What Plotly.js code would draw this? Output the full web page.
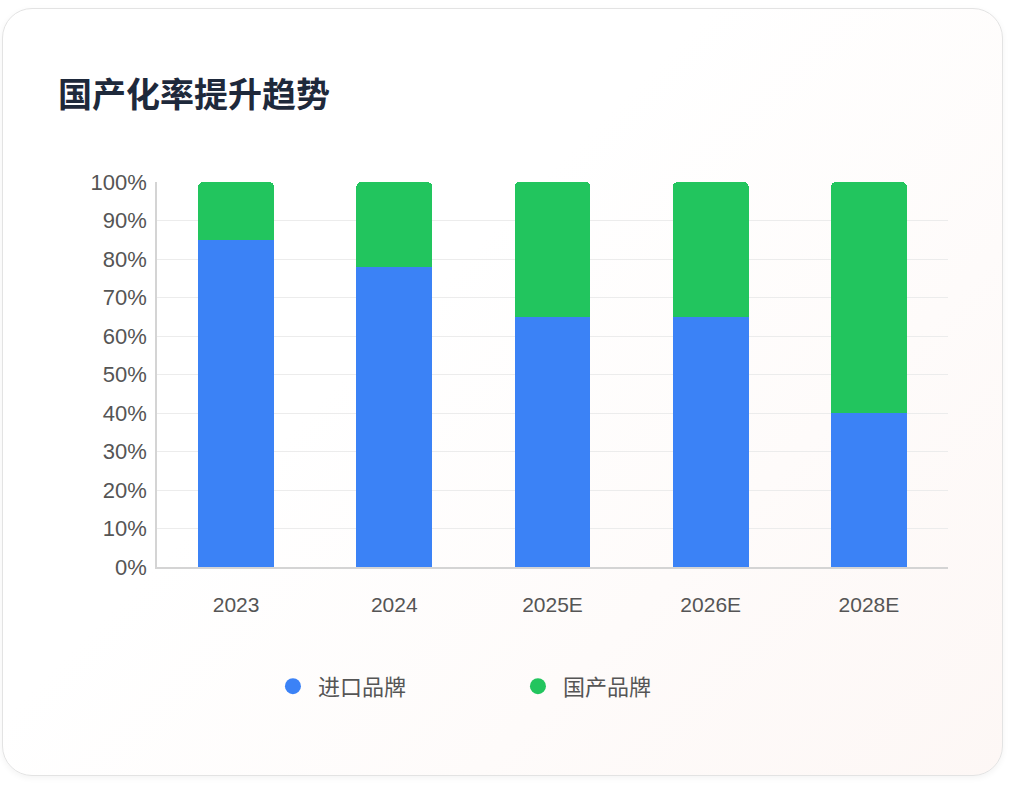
<!DOCTYPE html><html><head><meta charset="utf-8">
<script src="https://cdn.plot.ly/plotly-3.0.1.min.js"></script>
<style>body{margin:0;background:#fff;font-family:"Noto Sans CJK SC",sans-serif}
#card{position:absolute;left:2px;top:8px;width:999px;height:766px;border:1.5px solid #e3e3e3;border-radius:30px;background:linear-gradient(135deg,#fff 40%,#fdf7f5);box-shadow:0 2px 6px rgba(0,0,0,0.05)}
#c{position:absolute;left:0;top:0;width:1012px;height:786px}</style></head><body>
<div id="card"></div><div id="c"></div>
<script>
const categories=["2023","2024","2025E","2026E","2028E"];
const imported=[85,78,65,65,40];
const domestic=[15,22,35,35,60];
const seriesNames=["进口品牌","国产品牌"];
const colors=["#3b82f6","#22c55e"];
const f="Noto Sans CJK SC, sans-serif";
const tf="Liberation Sans, Arial, sans-serif";
const data=[
{type:"bar",x:categories,y:imported,marker:{color:colors[0]},showlegend:false,hoverinfo:"y"},
{type:"bar",x:categories,y:domestic,marker:{color:colors[1]},showlegend:false,hoverinfo:"y"},
{type:"scatter",mode:"markers",x:[null],y:[null],name:seriesNames[0],marker:{color:colors[0],size:16,symbol:"circle"}},
{type:"scatter",mode:"markers",x:[null],y:[null],name:seriesNames[1],marker:{color:colors[1],size:16,symbol:"circle"}}];
const layout={width:1012,height:786,paper_bgcolor:"rgba(0,0,0,0)",plot_bgcolor:"rgba(0,0,0,0)",
barmode:"stack",bargap:0.52,barcornerradius:5,
margin:{l:157,r:64,t:182,b:219},
title:{text:"<b>国产化率提升趋势</b>",x:58/1012,xanchor:"left",y:1-95/786,yanchor:"middle",font:{family:f,size:34,color:"#1e293b"}},
xaxis:{type:"category",categoryorder:"array",categoryarray:categories,showline:true,linecolor:"#d4d4d4",linewidth:1.5,tickfont:{family:tf,size:21,color:"#555"},ticks:"",ticklen:0,ticklabelstandoff:18},
yaxis:{range:[0,100],dtick:10,ticksuffix:"%",showline:true,linecolor:"#d4d4d4",linewidth:1.5,gridcolor:"#ececec",zeroline:false,tickfont:{family:tf,size:22,color:"#555"},ticks:"",ticklabelstandoff:4},
legend:{orientation:"h",traceorder:"normal",x:0.45,xanchor:"center",y:-0.31,yanchor:"middle",font:{family:f,size:22,color:"#555"},itemsizing:"trace",itemwidth:40,entrywidth:190}};
Plotly.newPlot("c",data,layout,{displayModeBar:false});
</script></body></html>
